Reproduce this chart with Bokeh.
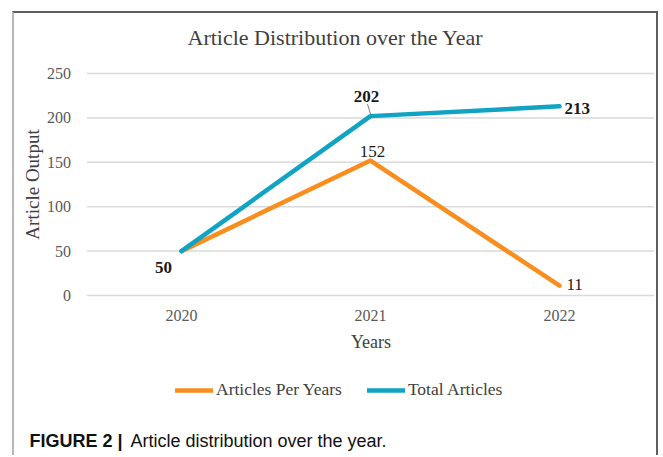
from bokeh.plotting import figure
from bokeh.models import (Range1d, Label, Legend, LegendItem, FixedTicker)
from bokeh.embed import file_html
from bokeh.resources import INLINE

# ---------------- data ----------------
years = [2020, 2021, 2022]
articles_per_year = [50, 152, 11]
total_articles = [50, 202, 213]
y_ticks = [0, 50, 100, 150, 200, 250]
title_text = "Article Distribution over the Year"
x_title = "Years"
y_title = "Article Output"
series_names = ["Articles Per Years", "Total Articles"]
caption_bold = "FIGURE 2 |"
caption_rest = "Article distribution over the year."

# ---------------- style ----------------
ORANGE = "#F98E1F"
TEAL = "#10A3C3"
SERIF = "Liberation Serif"
SANS = "Liberation Sans"
TXT = "#404040"

# page layout (page pixels): figure occupies x 14..660, y 13..457
OX, OY = 14, 13
W, H = 646, 444
X_FIRST_PX, PX_PER_YEAR = 181, 189.0   # first category centre / category width
Y_ZERO_PX, PX_PER_UNIT = 295, 222 / 250.0


def dx(px):  # page pixel -> data x
    return years[0] + (px - X_FIRST_PX) / PX_PER_YEAR


def dy(py):  # page pixel -> data y
    return (Y_ZERO_PX - py) / PX_PER_UNIT


p = figure(width=W, height=H,
           x_range=Range1d(dx(OX), dx(OX + W)), y_range=Range1d(dy(OY + H), dy(OY)),
           output_backend="svg", toolbar_location=None,
           min_border_left=0, min_border_right=0, min_border_top=0, min_border_bottom=0)
p.styles = {"margin-left": "12px", "margin-top": "11px",
            "border-top": "2px solid #5e5e5e", "border-right": "2px solid #5e5e5e",
            "border-left": "2px solid #b8b8b8"}
p.outline_line_color = None
p.background_fill_color = "white"
p.border_fill_color = "white"
p.xgrid.grid_line_color = None
p.ygrid.grid_line_color = None

x_lo, x_hi = years[0] - 0.5, years[-1] + 0.5
y_lo, y_hi = y_ticks[0], y_ticks[-1]

# horizontal gridlines over the category band
p.segment(x0=[x_lo] * len(y_ticks), y0=y_ticks, x1=[x_hi] * len(y_ticks), y1=y_ticks,
          line_color="#d9d9d9", line_width=1.5)

# axes at fixed locations
p.xaxis.fixed_location = y_lo
p.xaxis.bounds = (x_lo, x_hi)
p.xaxis.ticker = FixedTicker(ticks=years)
p.yaxis.fixed_location = x_lo
p.yaxis.bounds = (y_lo, y_hi)
p.yaxis.ticker = FixedTicker(ticks=y_ticks)
for ax in (p.xaxis, p.yaxis):
    ax.axis_line_color = None
    ax.major_tick_line_color = None
    ax.minor_tick_line_color = None
    ax.major_label_text_font = SERIF
    ax.major_label_text_font_size = "16px"
    ax.major_label_text_color = "#595959"
    ax.axis_label_text_font = SERIF
    ax.axis_label_text_font_style = "normal"
    ax.axis_label_text_color = TXT
p.xaxis.axis_label = x_title
p.yaxis.axis_label = y_title
p.xaxis.axis_label_text_font_size = "18px"
p.yaxis.axis_label_text_font_size = "19px"
p.xaxis.major_label_standoff = 8
p.xaxis.axis_label_standoff = 8
p.yaxis.major_label_standoff = 10
p.yaxis.axis_label_standoff = 2

# lines
r1 = p.line(years, articles_per_year, line_color=ORANGE, line_width=4.5,
            line_join="round", line_cap="round")
r2 = p.line(years, total_articles, line_color=TEAL, line_width=4.5,
            line_join="round", line_cap="round")

# data labels: (series, index, x offset px, y offset px, align, weight)
lab_specs = [
    (total_articles, 0, -18, -16, "center", "bold"),
    (total_articles, 1, -4, 20, "center", "bold"),
    (total_articles, 2, 5, -2, "left", "bold"),
    (articles_per_year, 1, 2, 9, "center", "normal"),
    (articles_per_year, 2, 7, 1, "left", "normal"),
]
for vals, i, ox, oy, al, st in lab_specs:
    p.add_layout(Label(x=years[i], y=vals[i], text=str(vals[i]), x_offset=ox, y_offset=oy,
                       text_align=al, text_baseline="middle", text_font=SERIF,
                       text_font_size="17px", text_font_style=st, text_color="#1a1a1a"))
# leader line for 202
p.segment(x0=[years[1] - 3 / PX_PER_YEAR], y0=[total_articles[1] + 12 / PX_PER_UNIT],
          x1=[years[1]], y1=[total_articles[1] + 2 / PX_PER_UNIT],
          line_color="#808080", line_width=1)

# title
p.add_layout(Label(x=dx(335), y=dy(37), text=title_text, text_align="center",
                   text_baseline="middle", text_font=SERIF, text_font_size="22px",
                   text_color=TXT))

# legend (location in px from the frame's bottom-left)
legend = Legend(items=[LegendItem(label=series_names[0], renderers=[r1]),
                       LegendItem(label=series_names[1], renderers=[r2])],
                orientation="horizontal", location=(175 - OX, OY + H - 400),
                glyph_width=38, glyph_height=18, label_standoff=3, spacing=25,
                padding=0, margin=0, border_line_color=None, background_fill_alpha=0,
                label_text_font=SERIF, label_text_font_size="17.5px", label_text_color=TXT,
                label_height=18)
p.add_layout(legend, "center")

# caption
p.add_layout(Label(x=dx(29), y=dy(440), text=caption_bold, text_align="left",
                   text_baseline="middle", text_font=SANS, text_font_size="18px",
                   text_font_style="bold", text_color="#111111"))
p.add_layout(Label(x=dx(29), y=dy(440), x_offset=101, text=caption_rest, text_align="left",
                   text_baseline="middle", text_font=SANS, text_font_size="18px",
                   text_color="#111111"))

open("out.html", "w").write(file_html(p, INLINE))
